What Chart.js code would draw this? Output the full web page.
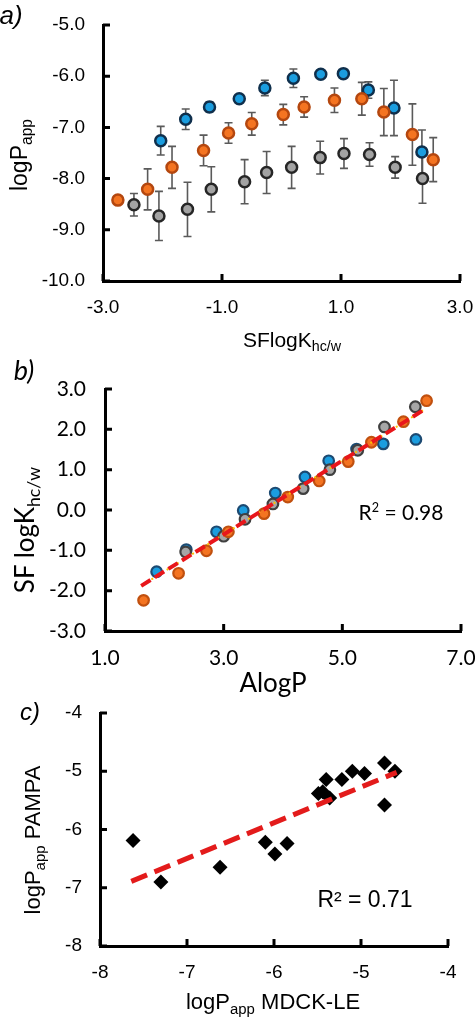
<!DOCTYPE html>
<html>
<head>
<meta charset="utf-8">
<script src="https://cdn.jsdelivr.net/npm/chart.js@4.4.0/dist/chart.umd.min.js"></script>
<style>
  body { margin: 0; background: #fff; }
  #wrap { position: relative; width: 475px; height: 1020px; overflow: hidden; }
  #wrap canvas { position: absolute; left: 0; }
  .t { position: absolute; white-space: nowrap; color: #000; line-height: 1; transform: translate(-50%, -50%); }
  .rot { transform: translate(-50%, -50%) rotate(-90deg); }
  .sub { font-size: 0.68em; vertical-align: -0.32em; }
  .arial { font-family: "Liberation Sans", Arial, sans-serif; }
  .cal { font-family: Lato, "Open Sans", sans-serif; }
</style>
</head>
<body>
<div id="wrap">
  <canvas id="cA" width="475" height="325" style="top:0px"></canvas>
  <canvas id="cB" width="475" height="345" style="top:330px"></canvas>
  <canvas id="cC" width="475" height="310" style="top:680px"></canvas>

  <div class="t arial" style="left:11px;top:15px;font-size:26px;font-style:italic">a)</div>
  <div class="t arial rot" style="left:21px;top:155px;font-size:23px">logP<span class="sub">app</span></div>
  <div class="t arial" style="left:292px;top:341px;font-size:21px">SFlogK<span class="sub">hc/w</span></div>

  <div class="t cal" style="left:24px;top:369px;font-size:27px;font-style:italic">b)</div>
  <div class="t cal rot" style="left:27px;top:530px;font-size:26px">SF logK<span class="sub">hc/w</span></div>
  <div class="t cal" style="left:273px;top:682px;font-size:26px">AlogP</div>
  <div class="t cal" style="left:401px;top:511px;font-size:21px">R<sup style="font-size:0.6em">2</sup> = 0.98</div>

  <div class="t arial" style="left:30px;top:712px;font-size:24px;font-style:italic">c)</div>
  <div class="t arial rot" style="left:35px;top:840px;font-size:22px">logP<span class="sub">app</span> PAMPA</div>
  <div class="t arial" style="left:273px;top:1004px;font-size:22px">logP<span class="sub">app</span> MDCK-LE</div>
  <div class="t arial" style="left:365px;top:899px;font-size:23px">R² = 0.71</div>
</div>

<script>
// ---- panel a: logPapp vs SFlogKhc/w ----
var aBlueX   = [-2.03, -1.61, -1.21, -0.71, -0.28, 0.20, 0.66, 1.04, 1.46, 1.89, 2.36];
var aBlueY   = [-7.26, -6.84, -6.60, -6.44, -6.23, -6.04, -5.96, -5.95, -6.27, -6.62, -7.48];
var aBlueErr = [0.28, 0.20, 0.10, 0.07, 0.15, 0.18, 0.04, 0.03, 0.16, 0.54, 0.43];

var aOrangeX   = [-2.75, -2.25, -1.84, -1.31, -0.89, -0.50, 0.03, 0.38, 0.89, 1.35, 1.72, 2.20, 2.55];
var aOrangeY   = [-8.42, -8.21, -7.78, -7.45, -7.11, -6.93, -6.75, -6.60, -6.47, -6.44, -6.70, -7.14, -7.63];
var aOrangeErr = [0.02, 0.40, 0.41, 0.30, 0.20, 0.22, 0.20, 0.20, 0.24, 0.32, 0.46, 0.60, 0.43];

var aGrayX   = [-2.48, -2.06, -1.58, -1.18, -0.62, -0.25, 0.17, 0.65, 1.05, 1.48, 1.91, 2.37];
var aGrayY   = [-8.51, -8.73, -8.60, -8.21, -8.06, -7.88, -7.78, -7.59, -7.51, -7.53, -7.78, -8.00];
var aGrayErr = [0.22, 0.48, 0.53, 0.44, 0.43, 0.41, 0.41, 0.32, 0.29, 0.23, 0.21, 0.48];

// ---- panel b: SF logKhc/w vs AlogP ----
var bBlueX = [1.87, 2.37, 2.88, 3.33, 3.87, 4.37, 4.77, 5.24, 5.69, 6.24];
var bBlueY = [-1.53, -0.98, -0.54, -0.01, 0.42, 0.82, 1.22, 1.51, 1.64, 1.75];
var bGrayX = [2.36, 3.00, 3.36, 3.83, 4.34, 4.79, 5.26, 5.71, 6.23];
var bGrayY = [-1.04, -0.65, -0.23, 0.15, 0.53, 1.00, 1.48, 2.06, 2.56];
var bOrangeX = [1.65, 2.24, 2.71, 3.08, 3.68, 4.08, 4.61, 5.10, 5.49, 6.03, 6.42];
var bOrangeY = [-2.24, -1.57, -1.01, -0.54, -0.09, 0.32, 0.72, 1.20, 1.68, 2.19, 2.71];
var bTrendX = [1.61, 6.37];
var bTrendY = [-1.88, 2.48];

// ---- panel c: PAMPA vs MDCK-LE ----
var cX = [-7.62, -7.30, -6.62, -6.10, -5.99, -5.85, -5.49, -5.44, -5.40, -5.36, -5.22, -5.10, -4.96, -4.73, -4.73, -4.61];
var cY = [-6.19, -6.90, -6.65, -6.22, -6.42, -6.24, -5.38, -5.35, -5.14, -5.46, -5.14, -5.00, -5.04, -4.86, -5.58, -5.00];
var cTrendX = [-7.64, -4.59];
var cTrendY = [-6.89, -5.02];

function pts(xs, ys) {
  return xs.map(function(x, i) { return { x: x, y: ys[i] }; });
}

// error bars, drawn under the markers
var errorBars = {
  id: 'errorBars',
  beforeDatasetsDraw: function(chart) {
    var ctx = chart.ctx, ys = chart.scales.y;
    ctx.save();
    ctx.strokeStyle = '#5a5a5a';
    ctx.lineWidth = 1.6;
    chart.data.datasets.forEach(function(ds, i) {
      if (!ds.err) return;
      var meta = chart.getDatasetMeta(i);
      meta.data.forEach(function(p, j) {
        var v = ds.data[j].y, e = ds.err[j];
        var top = ys.getPixelForValue(v + e), bot = ys.getPixelForValue(v - e);
        ctx.beginPath();
        ctx.moveTo(p.x, top); ctx.lineTo(p.x, bot);
        ctx.moveTo(p.x - 4, top); ctx.lineTo(p.x + 4, top);
        ctx.moveTo(p.x - 4, bot); ctx.lineTo(p.x + 4, bot);
        ctx.stroke();
      });
    });
    ctx.restore();
  }
};

// tick marks pointing into the plot
var inTicks = {
  id: 'inTicks',
  afterDraw: function(chart) {
    var ctx = chart.ctx, a = chart.chartArea, sx = chart.scales.x, sy = chart.scales.y;
    ctx.save();
    ctx.strokeStyle = '#000';
    ctx.lineWidth = 3;
    ctx.beginPath();
    sx.ticks.forEach(function(t) {
      var px = sx.getPixelForValue(t.value);
      ctx.moveTo(px, a.bottom); ctx.lineTo(px, a.bottom - 7);
    });
    sy.ticks.forEach(function(t) {
      var py = sy.getPixelForValue(t.value);
      ctx.moveTo(a.left, py); ctx.lineTo(a.left + 7, py);
    });
    ctx.stroke();
    ctx.restore();
  }
};

function makeChart(id, box, sc, datasets) {
  var cv = document.getElementById(id);
  var W = cv.width, H = cv.height;
  var font = { family: sc.family, size: sc.size };
  var fmt = function(v) { return sc.dec ? v.toFixed(sc.dec) : String(v); };
  return new Chart(cv, {
    type: 'scatter',
    data: { datasets: datasets },
    plugins: [errorBars, inTicks],
    options: {
      responsive: false,
      animation: false,
      events: [],
      layout: { padding: { left: 0, top: box.t, right: W - box.r, bottom: 0 } },
      plugins: { legend: { display: false }, tooltip: { enabled: false } },
      scales: {
        x: {
          type: 'linear', min: sc.xmin, max: sc.xmax,
          grid: { display: false, drawTicks: false },
          border: { display: true, color: '#000', width: 3 },
          ticks: { stepSize: sc.xstep, color: '#000', font: font, padding: sc.xpad, callback: fmt, maxRotation: 0 },
          afterFit: function(s) { s.height = H - box.b; s.paddingLeft = 0; s.paddingRight = 0; }
        },
        y: {
          type: 'linear', min: sc.ymin, max: sc.ymax,
          grid: { display: false, drawTicks: false },
          border: { display: true, color: '#000', width: 3 },
          ticks: { stepSize: sc.ystep, color: '#000', font: font, padding: sc.ypad, callback: fmt },
          afterFit: function(s) { s.width = box.l; s.paddingTop = 0; s.paddingBottom = 0; }
        }
      }
    }
  });
}

var BLUE = { bg: '#1b9ddf', bd: '#0f2f4c' };
var ORANGE = { bg: '#f47421', bd: '#b4470f' };
var GRAY = { bg: '#a3a3a3', bd: '#262626' };

function circles(xs, ys, c, r, bw, order, err) {
  return {
    data: pts(xs, ys), err: err, order: order,
    pointStyle: 'circle', pointRadius: r, pointBorderWidth: bw,
    backgroundColor: c.bg, borderColor: c.bd, showLine: false
  };
}

function trend(xs, ys, color, w, dash, order) {
  return {
    data: pts(xs, ys), order: order, showLine: true, pointRadius: 0,
    borderColor: color, borderWidth: w, borderDash: dash, fill: false
  };
}

makeChart('cA', { l: 103, t: 25, r: 460, b: 281 },
  { family: '"Liberation Sans", Arial, sans-serif', size: 19, dec: 1,
    xmin: -3, xmax: 3, xstep: 2, ymin: -10, ymax: -5, ystep: 1, xpad: 15, ypad: 18 },
  [
    circles(aOrangeX, aOrangeY, ORANGE, 5.5, 2.5, 1, aOrangeErr),
    circles(aBlueX, aBlueY, BLUE, 5.5, 2.5, 2, aBlueErr),
    circles(aGrayX, aGrayY, GRAY, 5.5, 2.5, 3, aGrayErr)
  ]);

makeChart('cB', { l: 105, t: 59, r: 461, b: 301 },
  { family: 'Lato, "Open Sans", sans-serif', size: 21, dec: 1,
    xmin: 1, xmax: 7, xstep: 2, ymin: -3, ymax: 3, ystep: 1, xpad: 15, ypad: 19 },
  [
    trend(bTrendX, bTrendY, '#e8161b', 4, [11, 5], 0),
    trend(bTrendX, bTrendY, '#ffc000', 2, [2, 4], 1),
    circles(bOrangeX, bOrangeY, { bg: '#f47421', bd: '#c0500f' }, 5.3, 2.2, 2),
    circles(bGrayX, bGrayY, { bg: '#a6a6a6', bd: '#3f3f3f' }, 5.3, 2.2, 3),
    circles(bBlueX, bBlueY, { bg: '#1b9ddf', bd: '#1c4a72' }, 5.3, 2.2, 4)
  ]);

makeChart('cC', { l: 100, t: 33, r: 448, b: 266 },
  { family: '"Liberation Sans", Arial, sans-serif', size: 19, dec: 0,
    xmin: -8, xmax: -4, xstep: 1, ymin: -8, ymax: -4, ystep: 1, xpad: 15, ypad: 18 },
  [
    trend(cTrendX, cTrendY, '#e31b1b', 5, [17, 8], 0),
    { data: pts(cX, cY), order: 1, pointStyle: 'rectRot', pointRadius: 7.5, pointBorderWidth: 0,
      backgroundColor: '#000', borderColor: '#000', showLine: false }
  ]);
</script>
</body>
</html>
